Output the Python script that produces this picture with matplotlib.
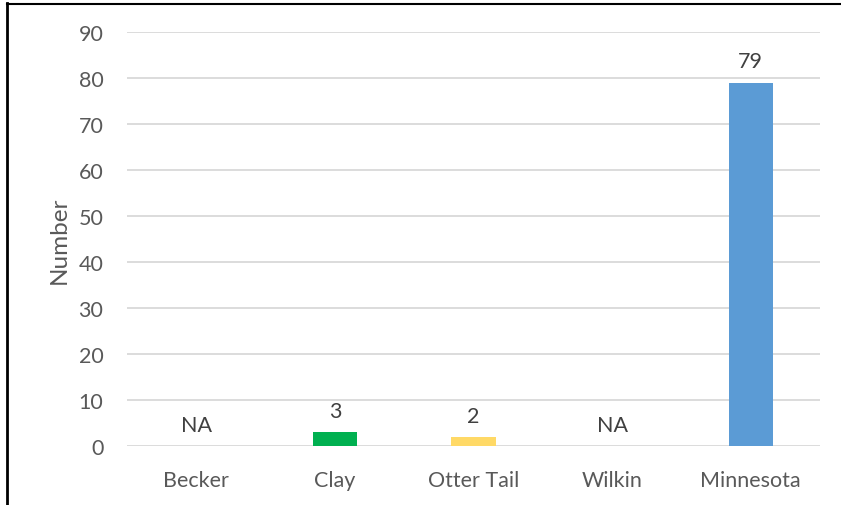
import numpy as np
import matplotlib.pyplot as plt
from matplotlib.lines import Line2D

# Counts by area (NA = not available)
areas = ['Becker', 'Clay', 'Otter Tail', 'Wilkin', 'Minnesota']
counts = [np.nan, 3, 2, np.nan, 79]
bar_colors = ['#5B9BD5', '#00B050', '#FFD966', '#5B9BD5', '#5B9BD5']
yticks = [0, 10, 20, 30, 40, 50, 60, 70, 80, 90]

plt.rcParams['font.family'] = ['Lato', 'DejaVu Sans']
text_color = '#595959'

fig = plt.figure(figsize=(8.41, 5.06), dpi=100)
ax = fig.add_axes([127/841, 1 - 447/506, (820-127)/841, (447-33)/506])

x = np.arange(len(areas))
heights = np.nan_to_num(counts)
ax.bar(x, heights, width=0.32, color=bar_colors, zorder=3)

# Value labels above each bar
for xi, c in zip(x, counts):
    label = 'NA' if np.isnan(c) else str(int(c))
    y = 0 if np.isnan(c) else c
    ax.annotate(label, (xi, y), xytext=(0, 8), textcoords='offset points',
                ha='center', va='bottom', fontsize=15.5, color='#404040')

ax.set_xlim(-0.5, len(areas) - 0.5)
ax.set_ylim(0, 90)
ax.set_yticks(yticks)
ax.set_xticks(x)
ax.set_xticklabels(areas)
ax.tick_params(axis='both', length=0, labelsize=15.5, labelcolor=text_color)
ax.tick_params(axis='y', pad=17)
ax.tick_params(axis='x', pad=17)
ax.set_ylabel('Number', fontsize=17.5, color=text_color, labelpad=6)

ax.grid(axis='y', color='#D9D9D9', linewidth=1.3, zorder=0)
for side in ['top', 'right', 'left', 'bottom']:
    ax.spines[side].set_visible(False)

# Frame on left and top edges
fig.add_artist(Line2D([7/841, 7/841], [0, 1 - 4/506], color='black', linewidth=2))
fig.add_artist(Line2D([7/841, 1], [1 - 4.5/506, 1 - 4.5/506], color='black', linewidth=1.5))

fig.savefig('out.png', dpi=100)
